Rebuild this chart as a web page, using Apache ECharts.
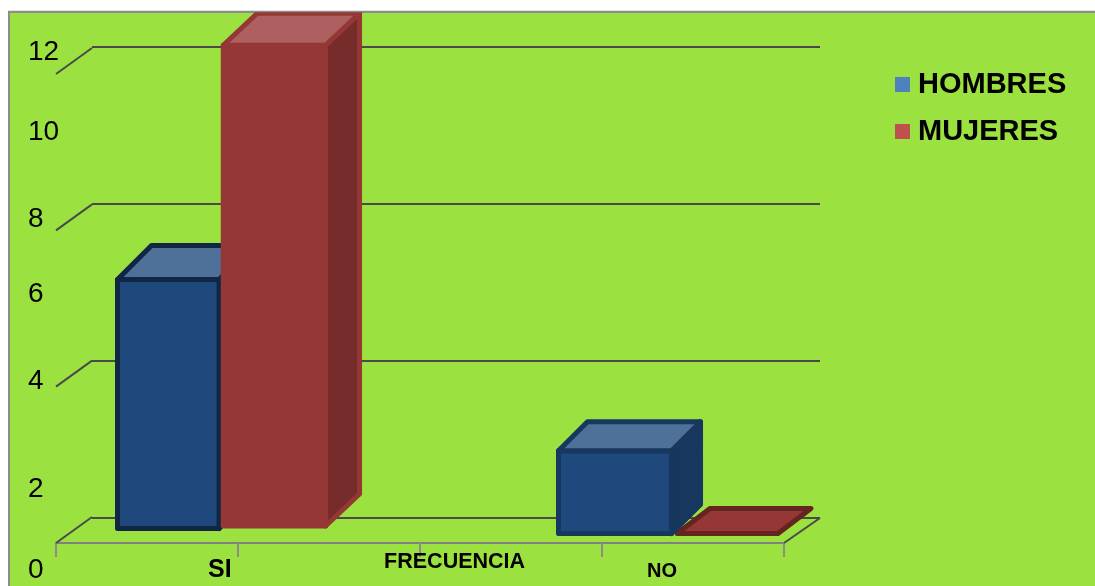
<!DOCTYPE html>
<html><head><meta charset="utf-8">
<style>html,body{margin:0;padding:0;background:#fff}#c{width:1095px;height:586px}</style>
<script src="https://cdn.jsdelivr.net/npm/echarts@6/dist/echarts.min.js"></script>
</head><body><div id="c"></div>
<script>
const categories = ["SI", "NO"];
const hombres = [6.37, 2.12];
const mujeres = [12.3, 0];
const axisTickLabels = ["0", "2", "4", "6", "8", "10", "12"];
const axisCaptions = ["SI", "FRECUENCIA", "NO"];
const wallLevels = [0, 4, 8, 12];

// Layout of the hand-placed 3D boxes (axis units on the floor, pixels for the depth)
const FONT = '"Liberation Sans", Arial, sans-serif';
const BOX = {
  HOMBRES: [
    {x0: .338, x1: .896, base: .371, dx: 34, dy: -34, z: 1, face: '#1F497D', line: '#0F2744', top: '#4F7099', side: '#17375E'},
    {x0: 2.761, x1: 3.382, base: .243, dx: 29, dy: -29, z: 4, face: '#1F497D', line: '#17375E', top: '#4F7099', side: '#17375E'}
  ],
  MUJERES: [
    {x0: .919, x1: 1.481, base: .435, dx: 34, dy: -32, z: 2, face: '#953735', line: '#953735', top: '#AE6060', side: '#772C2C'},
    {x0: 3.412, x1: 3.967, base: .243, dx: 33, dy: -25, z: 3, face: '#953735', line: '#64241F', top: '#953735', side: '#64241F'}
  ]
};

function boxRenderer(name) {
  return function (params, api) {
    const b = BOX[name][api.value(0)];
    const v = api.value(1);
    const fb = api.coord([b.x0, b.base]), fr = api.coord([b.x1, b.base]);
    const ft = api.coord([b.x0, b.base + v]), tr = api.coord([b.x1, b.base + v]);
    const off = p => [p[0] + b.dx, p[1] + b.dy];
    const sw = 5;
    const mk = (pts, fill, z) => ({
      type: 'polygon', z2: b.z * 10 + z, shape: {points: pts},
      style: {fill: fill, stroke: b.line, lineWidth: sw, lineJoin: 'round'}
    });
    const children = [];
    if (v > 0) {
      children.push(mk([fr, tr, off(tr), off(fr)], b.side, 0));
      children.push(mk([fb, fr, tr, ft], b.face, 1));
    }
    children.push(mk([ft, tr, off(tr), off(ft)], b.top, 2));
    return {type: 'group', children};
  };
}

function wallRenderer(params, api) {
  const v = api.value(0);
  const p = api.coord([0, v]);
  return {type: 'line', shape: {x1: p[0], y1: p[1], x2: p[0] + 36, y2: p[1] - 26},
    style: {stroke: '#4a4a4a', lineWidth: 2}};
}
function floorRightRenderer(params, api) {
  const p = api.coord([4, 0]);
  return {type: 'line', shape: {x1: p[0], y1: p[1], x2: p[0] + 36, y2: p[1] - 25},
    style: {stroke: '#4a4a4a', lineWidth: 2}};
}

const chart = echarts.init(document.getElementById('c'), null, {renderer: 'canvas'});
chart.setOption({
  animation: false,
  backgroundColor: '#ffffff',
  textStyle: {fontFamily: FONT},
  graphic: [
    {type: 'rect', z: -10, silent: true, shape: {x: 9, y: 12, width: 1090, height: 580},
      style: {fill: '#9BE241', stroke: '#8c8c8c', lineWidth: 2}},
    {type: 'rect', z: 50, silent: true, shape: {x: 0, y: 0, width: 1095, height: 11}, style: {fill: '#fff'}},
    {type: 'line', z: 51, silent: true, shape: {x1: 8, y1: 11.5, x2: 1095, y2: 11.5}, style: {stroke: '#8c8c8c', lineWidth: 1.5}}
  ],
  legend: {
    left: 890, top: 62, orient: 'vertical', icon: 'rect', itemWidth: 15, itemHeight: 15, itemGap: 12, selectedMode: false,
    data: ['HOMBRES', 'MUJERES'],
    textStyle: {fontFamily: FONT, fontSize: 29, fontWeight: 'bold', color: '#000', lineHeight: 33, padding: [2, 0, 0, 3]}
  },
  grid: [
    {left: 92, top: 47, width: 728, height: 471},   // back wall
    {left: 56, top: 74, width: 728, height: 469},   // front plane
    {left: 60, top: 52, width: 1, height: 518}      // printed value labels
  ],
  xAxis: [
    {gridIndex: 0, type: 'value', min: 0, max: 4, show: false},
    {gridIndex: 1, type: 'value', min: 0, max: 4, interval: 1,
      axisLine: {show: true, onZero: false, lineStyle: {color: '#808080', width: 2}},
      axisTick: {show: true, length: 14, lineStyle: {color: '#8c8c8c', width: 2}},
      splitLine: {show: false},
      axisLabel: {
        show: true, margin: 8, customValues: [.9, 2.19, 3.33], hideOverlap: false, showMinLabel: true, showMaxLabel: true,
        formatter: (v, i) => {
          const k = v < 1.5 ? 0 : v < 3 ? 1 : 2;
          return '{s' + k + '|' + axisCaptions[k] + '}';
        },
        rich: {
          s0: {fontFamily: FONT, fontWeight: 'bold', color: '#000', fontSize: 25, lineHeight: 25, padding: [13, 0, 0, 0]},
          s1: {fontFamily: FONT, fontWeight: 'bold', color: '#000', fontSize: 21.5, lineHeight: 22, padding: [0, 0, 0, 0]},
          s2: {fontFamily: FONT, fontWeight: 'bold', color: '#000', fontSize: 20, lineHeight: 20, padding: [20, 0, 0, 0]}
        }
      }},
    {gridIndex: 2, type: 'value', min: 0, max: 1, show: false}
  ],
  yAxis: [
    {gridIndex: 0, type: 'value', min: 0, max: 12, interval: 4,
      axisLine: {show: false}, axisTick: {show: false}, axisLabel: {show: false},
      splitLine: {show: true, lineStyle: {color: '#4a4a4a', width: 2}}},
    {gridIndex: 1, type: 'value', min: 0, max: 12, interval: 4,
      axisLine: {show: false}, axisTick: {show: false}, axisLabel: {show: false}, splitLine: {show: false}},
    {gridIndex: 2, type: 'value', min: 0, max: 12,
      axisLine: {show: false}, axisTick: {show: false}, splitLine: {show: false},
      axisLabel: {
        show: true, align: 'left', margin: 32, fontSize: 28, color: '#000', fontFamily: FONT,
        customValues: [0, 1.88, 4.38, 6.39, 8.13, 10.15, 12],
        showMinLabel: true, showMaxLabel: true, hideOverlap: false,
        formatter: v => axisTickLabels[Math.round(v / 2)]
      }}
  ],
  series: [
    {type: 'custom', name: 'walls', xAxisIndex: 1, yAxisIndex: 1, z: 3, silent: true, clip: false,
      data: wallLevels.map(v => [v]), renderItem: wallRenderer},
    {type: 'custom', name: 'floor', xAxisIndex: 1, yAxisIndex: 1, z: 3, silent: true, clip: false,
      data: [[0]], renderItem: floorRightRenderer},
    {type: 'custom', name: 'HOMBRES', xAxisIndex: 1, yAxisIndex: 1, z: 5, clip: false,
      itemStyle: {color: '#4F81BD'},
      data: categories.map((c, i) => [i, hombres[i]]), encode: {x: -1, y: 1},
      renderItem: boxRenderer('HOMBRES')},
    {type: 'custom', name: 'MUJERES', xAxisIndex: 1, yAxisIndex: 1, z: 5, clip: false,
      itemStyle: {color: '#C0504D'},
      data: categories.map((c, i) => [i, mujeres[i]]), encode: {x: -1, y: 1},
      renderItem: boxRenderer('MUJERES')}
  ]
});
</script></body></html>
